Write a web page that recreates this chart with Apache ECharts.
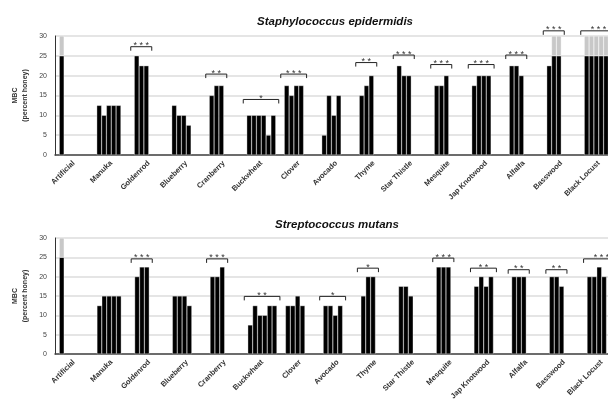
<!DOCTYPE html>
<html>
<head>
<meta charset="utf-8">
<script src="https://cdn.jsdelivr.net/npm/echarts@6/dist/echarts.min.js"></script>
<style>
html,body{margin:0;padding:0;background:#fff;}
#chart{width:608px;height:404px;}
</style>
</head>
<body>
<div id="chart"></div>
<script>
// ---- data ----
const categories = ['Artificial','Manuka','Goldenrod','Blueberry','Cranberry','Buckwheat','Clover','Avocado','Thyme','Star Thistle','Mesquite','Jap Knotwood','Alfalfa','Basswood','Black Locust'];
const yTicks = [0, 5, 10, 15, 20, 25, 30];

const titleTop = 'Staphylococcus epidermidis';
const titleBottom = 'Streptococcus mutans';

// MBC values (percent honey) per honey, one entry per replicate bar
const staphMBC = [
  [25],
  [12.5, 10, 12.5, 12.5, 12.5],
  [25, 22.5, 22.5],
  [12.5, 10, 10, 7.5],
  [15, 17.5, 17.5],
  [10, 10, 10, 10, 5, 10],
  [17.5, 15, 17.5, 17.5],
  [5, 15, 10, 15],
  [15, 17.5, 20],
  [22.5, 20, 20],
  [17.5, 17.5, 20],
  [17.5, 20, 20, 20],
  [22.5, 22.5, 20],
  [22.5, 25, 25],
  [25, 25, 25, 25, 25]
];
// 1 = MBC above the highest tested concentration (grey cap 25 -> 30)
const staphAbove = [
  [1], [], [], [], [], [], [], [], [], [], [], [], [], [0, 1, 1], [1, 1, 1, 1, 1]
];
const mutansMBC = [
  [25],
  [12.5, 15, 15, 15, 15],
  [20, 22.5, 22.5],
  [15, 15, 15, 12.5],
  [20, 20, 22.5],
  [7.5, 12.5, 10, 10, 12.5, 12.5],
  [12.5, 12.5, 15, 12.5],
  [12.5, 12.5, 10, 12.5],
  [15, 20, 20],
  [17.5, 17.5, 15],
  [22.5, 22.5, 22.5],
  [17.5, 20, 17.5, 20],
  [20, 20, 20],
  [20, 20, 17.5],
  [20, 20, 22.5, 20]
];
const mutansAbove = [
  [1], [], [], [], [], [], [], [], [], [], [], [], [], [], []
];
const capValue = 30;
const capBase = 25;

// significance brackets: [category index, bracket level (MBC units), bars spanned, stars]
const staphSig = [
  [2, 27.3, 3, 3], [4, 20.4, 3, 2], [5, 14.0, 6, 1], [6, 20.4, 4, 3],
  [8, 23.3, 3, 2], [9, 25.2, 3, 3], [10, 22.8, 3, 3], [11, 22.8, 4, 3],
  [12, 25.2, 3, 3], [13, 31.3, 3, 3], [14, 31.3, 6, 3]
];
const mutansSig = [
  [2, 24.6, 3, 3], [4, 24.6, 3, 3], [5, 14.9, 6, 2], [7, 14.9, 4, 1],
  [8, 22.2, 3, 1], [10, 24.8, 3, 3], [11, 22.2, 4, 2], [12, 21.8, 3, 2],
  [13, 21.8, 3, 2], [14, 24.6, 6, 3]
];

// ---- chart ----
const SLOTS = 6;
const GAP = 0.227;
const FONT = '"Liberation Sans", Arial, sans-serif';

function barSeries(values, above, axisIdx) {
  const out = [];
  for (let s = 0; s < SLOTS; s++) {
    const black = values.map((v, i) => v[s] === undefined ? null : ((above[i][s] ? capBase : v[s])));
    const grey = values.map((v, i) => above[i][s] ? capValue - capBase : null);
    out.push({
      type: 'bar', xAxisIndex: axisIdx, yAxisIndex: axisIdx,
      stack: 'p' + axisIdx + 's' + s,
      data: black, barGap: '0%', barCategoryGap: (GAP * 100) + '%',
      itemStyle: { color: '#000', borderColor: '#fff', borderWidth: 0.35 },
      silent: true, animation: false
    });
    out.push({
      type: 'bar', xAxisIndex: axisIdx, yAxisIndex: axisIdx,
      stack: 'p' + axisIdx + 's' + s,
      data: grey, barGap: '0%', barCategoryGap: (GAP * 100) + '%',
      itemStyle: { color: '#c8c8c8', borderColor: '#fff', borderWidth: 0.35 },
      silent: true, animation: false
    });
  }
  return out;
}

function renderBracket(params, api) {
  const cat = api.value(0), lvl = api.value(1), n = api.value(2), stars = api.value(3);
  const p = api.coord([cat, lvl]);
  const band = api.size([1, 0])[0];
  const groupW = band * (1 - GAP);
  const bw = groupW / SLOTS;
  const x0 = p[0] - groupW / 2 - 3.5;
  const x1 = p[0] - groupW / 2 + n * bw + 3;
  const y = p[1];
  const txt = Array(stars).fill('*').join(' ');
  return {
    type: 'group',
    children: [
      { type: 'polyline', shape: { points: [[x0, y + 4], [x0, y], [x1, y], [x1, y + 4]] },
        style: { stroke: '#222', lineWidth: 1, fill: 'none' } },
      { type: 'text', style: { text: txt, x: (x0 + x1) / 2, y: y + 3.5, align: 'center', verticalAlign: 'bottom',
        fontSize: 9, fontFamily: FONT, fill: '#333' } }
    ]
  };
}

function bracketSeries(sig, axisIdx) {
  return {
    type: 'custom', xAxisIndex: axisIdx, yAxisIndex: axisIdx,
    data: sig, encode: { x: 0, y: 1 }, renderItem: renderBracket,
    clip: false, silent: true, animation: false, z: 5
  };
}

function xAxisCfg(gridIdx) {
  return {
    type: 'category', gridIndex: gridIdx, data: categories,
    axisLine: { lineStyle: { color: '#444', width: 1.5 } },
    axisTick: { show: false },
    axisLabel: { rotate: 45, interval: 0, fontSize: 7.5, fontWeight: 'bold', color: '#333', fontFamily: FONT, margin: 7 }
  };
}
function yAxisCfg(gridIdx) {
  return {
    type: 'value', gridIndex: gridIdx, min: yTicks[0], max: yTicks[yTicks.length - 1], interval: yTicks[1] - yTicks[0],
    name: '{b|MBC}\n{n|(percent honey)}', nameLocation: 'middle', nameGap: 24, nameRotate: 90,
    nameTextStyle: { rich: {
      b: { fontSize: 7, fontWeight: 'bold', color: '#333', fontFamily: FONT, lineHeight: 10 },
      n: { fontSize: 7, fontWeight: 'bold', color: '#333', fontFamily: FONT, lineHeight: 10 }
    } },
    axisLine: { show: true, lineStyle: { color: '#333', width: 1 } },
    axisTick: { show: false },
    splitLine: { lineStyle: { color: '#dcdcdc', width: 1.5 } },
    axisLabel: { fontSize: 7, color: '#444', fontFamily: FONT, margin: 8 }
  };
}

const chart = echarts.init(document.getElementById('chart'), null, { renderer: 'canvas' });
chart.setOption({
  backgroundColor: '#fff',
  animation: false,
  title: [
    { text: titleTop, left: 330, top: 11, textAlign: 'center',
      textStyle: { fontSize: 11.5, fontWeight: 'bold', fontStyle: 'italic', color: '#111', fontFamily: FONT } },
    { text: titleBottom, left: 332, top: 214, textAlign: 'center',
      textStyle: { fontSize: 11.5, fontWeight: 'bold', fontStyle: 'italic', color: '#111', fontFamily: FONT } }
  ],
  grid: [
    { left: 55, top: 36, height: 119, width: 562.5, containLabel: false, outerBoundsMode: 'none' },
    { left: 55, top: 238, height: 116, width: 565.5, containLabel: false, outerBoundsMode: 'none' }
  ],
  xAxis: [xAxisCfg(0), xAxisCfg(1)],
  yAxis: [yAxisCfg(0), yAxisCfg(1)],
  series: [].concat(
    barSeries(staphMBC, staphAbove, 0),
    barSeries(mutansMBC, mutansAbove, 1),
    [bracketSeries(staphSig, 0), bracketSeries(mutansSig, 1)]
  )
});
</script>
</body>
</html>
